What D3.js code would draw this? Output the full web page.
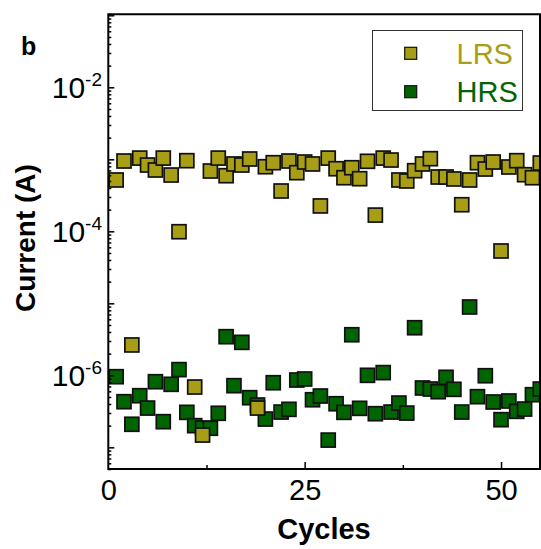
<!DOCTYPE html>
<html>
<head>
<meta charset="utf-8">
<script src="https://cdn.jsdelivr.net/npm/d3@7"></script>
<style>
  html, body { margin: 0; padding: 0; background: #fff; }
  svg { display: block; font-family: "Liberation Sans", Arial, sans-serif; }
</style>
</head>
<body>
<svg id="chart" width="541" height="549"></svg>
<script>
// ---- data ----
const cycles = d3.range(1, 56);
const lrs = [5.16e-4, 9.47e-4, 2.64e-6, 1.04e-3, 8.33e-4, 7.10e-4, 1.04e-3, 6.05e-4, 9.87e-5, 9.57e-4,
  6.88e-7, 1.48e-7, 6.88e-4, 1.04e-3, 5.92e-4, 8.61e-4, 8.33e-4, 1.01e-3, 3.51e-7, 7.89e-4,
  8.97e-4, 3.63e-4, 9.47e-4, 6.52e-4, 9.17e-4, 8.61e-4, 2.25e-4, 1.04e-3, 7.40e-4, 5.55e-4,
  7.64e-4, 5.38e-4, 9.38e-4, 1.68e-4, 1.04e-3, 9.77e-4, 5.16e-4, 5.0e-4, 6.95e-4, 8.61e-4,
  1.02e-3, 5.68e-4, 5.68e-4, 5.33e-4, 2.34e-4, 5.16e-4, 8.97e-4, 7.33e-4, 9.17e-4, 5.33e-5,
  7.82e-4, 9.57e-4, 6.11e-4, 5.55e-4, 8.88e-4];
const hrs = [9.57e-7, 4.30e-7, 2.09e-7, 5.21e-7, 3.51e-7, 8.15e-7, 2.27e-7, 7.50e-7, 1.20e-6, 3.06e-7,
  2.0e-7, 1.85e-7, 1.84e-7, 2.97e-7, 3.44e-6, 7.18e-7, 2.87e-6, 4.89e-7, 3.87e-7, 2.47e-7,
  7.89e-7, 3.09e-7, 3.37e-7, 8.6e-7, 8.89e-7, 4.58e-7, 5.16e-7, 1.26e-7, 4.03e-7, 3.06e-7,
  3.66e-6, 3.48e-7, 1.0e-6, 2.93e-7, 1.09e-6, 3.09e-7, 4.12e-7, 2.99e-7, 4.58e-6, 6.67e-7,
  6.45e-7, 5.92e-7, 9.38e-7, 6.39e-7, 3.09e-7, 8.89e-6, 5.05e-7, 9.87e-7, 4.26e-7, 2.42e-7,
  4.40e-7, 3.16e-7, 3.40e-7, 5.38e-7, 6.45e-7];
const xTicks = [0, 25, 50];
const xMinorTicks = [12.5, 37.5];
const yTickExps = [-2, -4, -6];
const seriesNames = ["LRS", "HRS"];
const seriesColors = ["#A89E16", "#006400"];

// ---- layout ----
const svg = d3.select("#chart");
const L = 108.3, R = 540.3, T = 15.3, B = 469;
const x = d3.scaleLinear().domain([0, 55]).range([L, R]);
const y = d3.scaleLog().domain([5e-8, 1e-1]).range([B, T]);

svg.append("defs").append("clipPath").attr("id", "clip")
  .append("rect").attr("x", L).attr("y", T - 1).attr("width", 540 - L).attr("height", B - T + 1);

// markers: HRS first, LRS on top
const sz = 14;
const plot = svg.append("g").attr("clip-path", "url(#clip)");
[[hrs, seriesColors[1]], [lrs, seriesColors[0]]].forEach(([vals, col]) => {
  plot.append("g").selectAll("rect").data(vals).join("rect")
    .attr("x", (d, i) => x(cycles[i]) - sz / 2)
    .attr("y", d => y(d) - sz / 2)
    .attr("width", sz).attr("height", sz)
    .attr("fill", col)
    .attr("stroke", "#111").attr("stroke-width", 1.7);
});

// frame
svg.append("path")
  .attr("d", `M${L},${B}H540V${T - 1}H${L}Z`)
  .attr("fill", "none").attr("stroke", "#000").attr("stroke-width", 2);

// y axis ticks (log minor)
const yMinor = [];
for (let e = -8; e <= -1; e++) for (let m = 1; m <= 9; m++) {
  const v = m * Math.pow(10, e);
  if (v >= 5e-8 && v <= 1e-1) yMinor.push(v);
}
const yAxis = d3.axisLeft(y).tickValues(yMinor).tickSizeInner(-3).tickSizeOuter(0).tickFormat("");
const gy = svg.append("g").attr("transform", `translate(${L},0)`).call(yAxis);
gy.select(".domain").remove();
gy.selectAll(".tick line").attr("stroke", "#000").attr("stroke-width", 1.5)
  .attr("x2", d => (Math.abs(Math.log10(d) - Math.round(Math.log10(d))) < 1e-9) ? 6 : 3);

// y tick labels
yTickExps.forEach(e => {
  const t = svg.append("text")
    .attr("x", 102).attr("y", y(Math.pow(10, e)) + 10.5)
    .attr("text-anchor", "end").attr("font-size", 30).attr("fill", "#000");
  t.append("tspan").text("10");
  t.append("tspan").attr("font-size", 19).attr("dy", -11.5).text(String(e));
});

// x axis ticks
const xAxis = d3.axisBottom(x).tickValues(xTicks).tickSizeInner(-7).tickSizeOuter(0);
const gx = svg.append("g").attr("transform", `translate(0,${B})`).call(xAxis);
gx.select(".domain").remove();
gx.selectAll(".tick line").attr("stroke", "#000").attr("stroke-width", 1.5);
gx.selectAll(".tick text").attr("font-size", 29).attr("font-family", "Liberation Sans, Arial, sans-serif")
  .attr("fill", "#000").attr("y", 31).attr("dy", 0);
gx.selectAll(".tick").filter(d => d === 0).select("line").remove();
const xAxisMinor = d3.axisBottom(x).tickValues(xMinorTicks).tickSizeInner(-4).tickSizeOuter(0).tickFormat("");
const gxm = svg.append("g").attr("transform", `translate(0,${B})`).call(xAxisMinor);
gxm.select(".domain").remove();
gxm.selectAll(".tick line").attr("stroke", "#000").attr("stroke-width", 1.5);

// axis titles
svg.append("text").attr("x", 324).attr("y", 539).attr("text-anchor", "middle")
  .attr("font-size", 29).attr("font-weight", "bold").text("Cycles");
svg.append("text").attr("transform", `translate(35,238) rotate(-90)`).attr("text-anchor", "middle")
  .attr("font-size", 28).attr("font-weight", "bold").text("Current (A)");
svg.append("text").attr("x", 21).attr("y", 55).attr("font-size", 25).attr("font-weight", "bold").text("b");

// legend
const lg = svg.append("g");
lg.append("rect").attr("x", 372.5).attr("y", 30.5).attr("width", 150).attr("height", 80)
  .attr("fill", "#fff").attr("stroke", "#333").attr("stroke-width", 1);
seriesNames.forEach((n, i) => {
  const cy = [53.3, 91.7][i];
  lg.append("rect").attr("x", 410.7 - 6).attr("y", cy - 6).attr("width", 12).attr("height", 12)
    .attr("fill", seriesColors[i]).attr("stroke", "#111").attr("stroke-width", 1.2);
  lg.append("text").attr("x", 456.5).attr("y", cy + 10.5).attr("font-size", 29)
    .attr("fill", seriesColors[i]).text(n);
});
</script>
</body>
</html>
